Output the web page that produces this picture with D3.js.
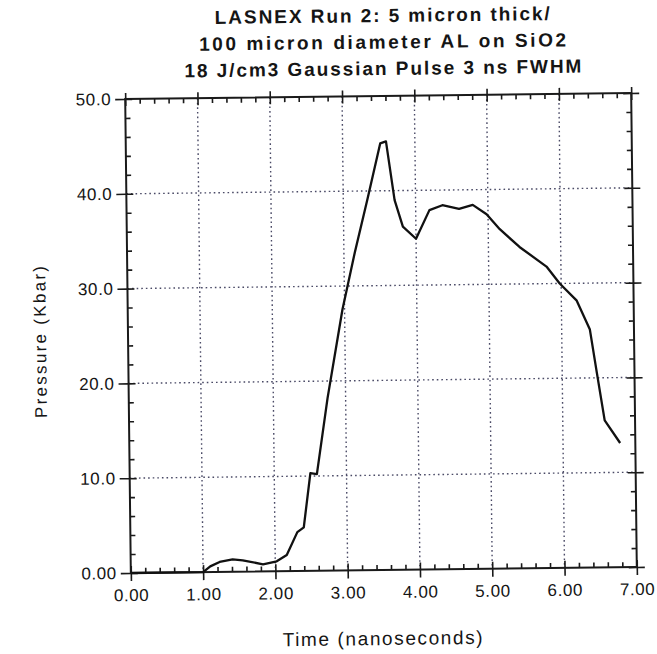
<!DOCTYPE html>
<html>
<head>
<meta charset="utf-8">
<script src="https://cdn.jsdelivr.net/npm/d3@7"></script>
<style>
  body { margin: 0; background: #fff; }
  text { font-family: "Liberation Sans", Arial, sans-serif; fill: #151515; }
</style>
</head>
<body>
<script>
// values
var times = [0, 1.00, 1.10, 1.23, 1.41, 1.55, 1.83, 2.02, 2.16, 2.31, 2.40, 2.50, 2.59, 2.75, 2.97, 3.15, 3.33, 3.52, 3.60, 3.71, 3.82, 4.00, 4.19, 4.37, 4.60, 4.79, 4.98, 5.16, 5.43, 5.80, 5.98, 6.21, 6.39, 6.48, 6.58, 6.79];
var pressures = [0, 0, 0.6, 1.05, 1.3, 1.2, 0.75, 1.05, 1.7, 4.1, 4.6, 10.3, 10.2, 18.2, 27.5, 33.5, 39.0, 45.0, 45.2, 39.0, 36.2, 34.9, 37.9, 38.4, 38.0, 38.4, 37.4, 35.8, 33.9, 31.8, 30.0, 28.2, 25.1, 20.5, 15.5, 13.1];
var xTicks = [0, 1, 2, 3, 4, 5, 6, 7];
var yTicks = [0, 10, 20, 30, 40, 50];
var titleLines = ["LASNEX Run 2: 5 micron thick/", "100 micron diameter AL on SiO2", "18 J/cm3 Gaussian Pulse 3 ns FWHM"];

var W = 657, H = 654;
var plotL = 128, plotR = 634, plotT = 96, plotB = 570;

var svg = d3.select("body").append("svg")
    .attr("width", W)
    .attr("height", H);

// the scan is tilted a little
var g = svg.append("g").attr("transform", "rotate(-0.68,381,333)");

var x = d3.scaleLinear().domain([0, 7]).range([plotL, plotR]);
var y = d3.scaleLinear().domain([0, 50]).range([plotB, plotT]);

var xMinor = d3.range(0, 7.001, 0.2).filter(d => Math.abs(d - Math.round(d)) > 1e-6);
var yMinor = d3.range(0, 50.001, 2).filter(d => d % 10 !== 0);

// dotted grid
g.append("g").selectAll("line").data(xTicks.slice(1, -1)).join("line")
    .attr("x1", d => x(d)).attr("x2", d => x(d))
    .attr("y1", plotT).attr("y2", plotB)
    .attr("stroke", "#4a4a66").attr("stroke-width", 1.4)
    .attr("stroke-dasharray", "1.6,3");
g.append("g").selectAll("line").data(yTicks.slice(1, -1)).join("line")
    .attr("y1", d => y(d)).attr("y2", d => y(d))
    .attr("x1", plotL).attr("x2", plotR)
    .attr("stroke", "#4a4a66").attr("stroke-width", 1.4)
    .attr("stroke-dasharray", "1.6,3");

function styleAxis(sel) {
    sel.select(".domain").remove();
    sel.selectAll(".tick line").attr("stroke", "#1a1a1a").attr("stroke-width", 1.6);
}

var fmtX = d3.format(".2f");
var fmtY = d => d === 0 ? "0.00" : d.toFixed(1);

// bottom axis
g.append("g").attr("transform", `translate(0,${plotB})`)
    .call(d3.axisBottom(x).tickValues(xTicks).tickSize(8).tickPadding(8).tickFormat(fmtX))
    .call(styleAxis)
    .selectAll("text").style("font-size", "17px").attr("letter-spacing", "0.6px").attr("fill", "#151515");
g.append("g").attr("transform", `translate(0,${plotB})`)
    .call(d3.axisBottom(x).tickValues(xTicks).tickSize(-7).tickFormat(""))
    .call(styleAxis);
g.append("g").attr("transform", `translate(0,${plotB})`)
    .call(d3.axisBottom(x).tickValues(xMinor).tickSize(-5).tickFormat(""))
    .call(styleAxis);

// top axis
g.append("g").attr("transform", `translate(0,${plotT})`)
    .call(d3.axisTop(x).tickValues(xTicks).tickSize(6).tickFormat(""))
    .call(styleAxis);
g.append("g").attr("transform", `translate(0,${plotT})`)
    .call(d3.axisTop(x).tickValues(xTicks).tickSize(-7).tickFormat(""))
    .call(styleAxis);
g.append("g").attr("transform", `translate(0,${plotT})`)
    .call(d3.axisTop(x).tickValues(xMinor).tickSize(-5).tickFormat(""))
    .call(styleAxis);

// left axis
g.append("g").attr("transform", `translate(${plotL},0)`)
    .call(d3.axisLeft(y).tickValues(yTicks).tickSize(10).tickPadding(4).tickFormat(fmtY))
    .call(styleAxis)
    .selectAll("text").style("font-size", "17px").attr("letter-spacing", "0.6px").attr("fill", "#151515");
g.append("g").attr("transform", `translate(${plotL},0)`)
    .call(d3.axisLeft(y).tickValues(yTicks).tickSize(-7).tickFormat(""))
    .call(styleAxis);
g.append("g").attr("transform", `translate(${plotL},0)`)
    .call(d3.axisLeft(y).tickValues(yMinor).tickSize(-5).tickFormat(""))
    .call(styleAxis);

// right axis
g.append("g").attr("transform", `translate(${plotR},0)`)
    .call(d3.axisRight(y).tickValues(yTicks).tickSize(8).tickFormat(""))
    .call(styleAxis);
g.append("g").attr("transform", `translate(${plotR},0)`)
    .call(d3.axisRight(y).tickValues(yTicks).tickSize(-8).tickFormat(""))
    .call(styleAxis);
g.append("g").attr("transform", `translate(${plotR},0)`)
    .call(d3.axisRight(y).tickValues(yMinor).tickSize(-5).tickFormat(""))
    .call(styleAxis);

// frame
g.append("rect")
    .attr("x", plotL).attr("y", plotT)
    .attr("width", plotR - plotL).attr("height", plotB - plotT)
    .attr("fill", "none").attr("stroke", "#1a1a1a").attr("stroke-width", 2);

// the curve
var pts = times.map((t, i) => [t, pressures[i]]);
g.append("path")
    .datum(pts)
    .attr("fill", "none")
    .attr("stroke", "#111")
    .attr("stroke-width", 2.3)
    .attr("stroke-linejoin", "round")
    .attr("d", d3.line().x(d => x(d[0])).y(d => y(d[1])));

// title
var titleWidths = [335, 367, 397];
g.append("g").selectAll("text").data(titleLines).join("text")
    .attr("x", 386)
    .attr("y", (d, i) => 22 + i * 26.5)
    .attr("text-anchor", "middle")
    .attr("textLength", (d, i) => titleWidths[i])
    .attr("lengthAdjust", "spacing")
    .style("font-size", "19px")
    .style("font-weight", "bold")
    .text(d => d);

// axis titles
g.append("text")
    .attr("x", 379).attr("y", 645)
    .attr("text-anchor", "middle")
    .attr("textLength", 200)
    .attr("lengthAdjust", "spacing")
    .style("font-size", "19px")
    .text("Time  (nanoseconds)");

g.append("text")
    .attr("transform", "translate(46,338) rotate(-90)")
    .attr("text-anchor", "middle")
    .attr("textLength", 152)
    .attr("lengthAdjust", "spacing")
    .style("font-size", "17px")
    .text("Pressure  (Kbar)");
</script>
</body>
</html>
